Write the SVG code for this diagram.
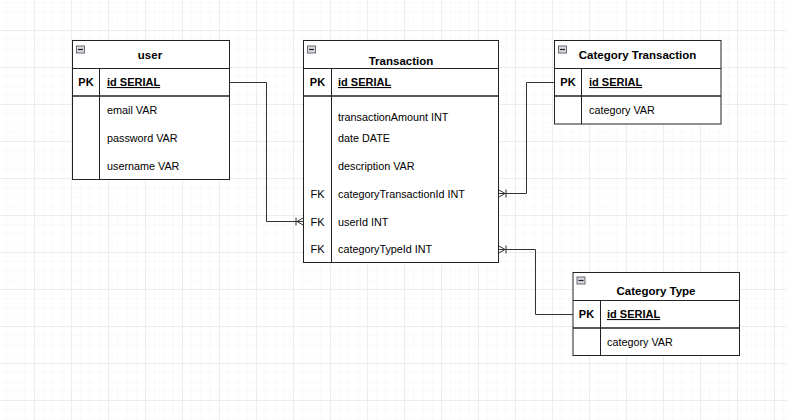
<svg xmlns="http://www.w3.org/2000/svg" width="787" height="420" viewBox="0 0 787 420">
<defs>
<pattern id="minor" patternUnits="userSpaceOnUse" x="-3" y="-7" width="9.25" height="9.25">
<path d="M0 0H9.25M0 0V9.25" fill="none" stroke="#f3f3f3" stroke-width="1"/>
</pattern>
<pattern id="major" patternUnits="userSpaceOnUse" x="-3" y="-7" width="37" height="37">
<path d="M0 0H37M0 0V37" fill="none" stroke="#e2e2e2" stroke-width="1"/>
</pattern>
<g id="minus">
<rect x="0" y="0" width="8" height="7" fill="#d8d8e0" stroke="#6a6a74" stroke-width="1"/>
<path d="M1.5 3.5H6.5" stroke="#222" stroke-width="1.2"/>
</g>
</defs>
<style>
.box{fill:#fff;stroke:#222;stroke-width:1}
.ln{stroke:#222;stroke-width:1;fill:none}
.sep{stroke:#222;stroke-width:1.6;fill:none}
.title{font-family:"Liberation Sans",Arial,sans-serif;font-size:11.5px;font-weight:bold;fill:#000;text-anchor:middle}
.key{font-family:"Liberation Sans",Arial,sans-serif;font-size:11px;font-weight:bold;fill:#000;text-anchor:middle}
.fk{font-family:"Liberation Sans",Arial,sans-serif;font-size:11px;fill:#000;text-anchor:middle}
.pk{font-family:"Liberation Sans",Arial,sans-serif;font-size:11px;font-weight:bold;fill:#000;text-decoration:underline}
.fld{font-family:"Liberation Sans",Arial,sans-serif;font-size:10.8px;fill:#000}
.con{stroke:#333;stroke-width:1;fill:none}
</style>
<rect width="787" height="420" fill="#fff"/>
<rect width="787" height="420" fill="url(#minor)"/>
<rect width="787" height="420" fill="url(#major)"/>

<g id="connectors">
<path class="con" d="M229.5 82.5H266.5V221.5H304"/>
<path class="con" d="M304 217.5L297 221.5L304 225.5M296 217.5V225.5"/>
<path class="con" d="M554 82.5H526.5V193.5H498"/>
<path class="con" d="M498 189.5L505 193.5L498 197.5M506 189.5V197.5"/>
<path class="con" d="M573 314.5H535.5V249.5H498"/>
<path class="con" d="M498 245.5L505 249.5L498 253.5M506 245.5V253.5"/>
</g>

<g id="user">
<rect class="box" x="72.5" y="40.5" width="157" height="139"/>
<path class="ln" d="M72.5 68.5H229.5M99.5 68.5V179.5"/>
<path class="sep" d="M72.5 96H229.5"/>
<use href="#minus" x="76.5" y="46"/>
<text class="title" x="150" y="59">user</text>
<text class="key" x="86" y="86">PK</text>
<text class="pk" x="107" y="86">id SERIAL</text>
<text class="fld" x="107" y="114">email VAR</text>
<text class="fld" x="107" y="142">password VAR</text>
<text class="fld" x="107" y="170">username VAR</text>
</g>

<g id="transaction">
<rect class="box" x="303.5" y="40.5" width="195" height="222"/>
<path class="ln" d="M303.5 68.5H498.5M331.5 68.5V262.5"/>
<path class="sep" d="M303.5 96H498.5"/>
<use href="#minus" x="307.5" y="46"/>
<text class="title" x="401" y="65">Transaction</text>
<text class="key" x="317.5" y="86">PK</text>
<text class="pk" x="338" y="86">id SERIAL</text>
<text class="fld" x="338" y="121">transactionAmount INT</text>
<text class="fld" x="338" y="142">date DATE</text>
<text class="fld" x="338" y="170">description VAR</text>
<text class="fk" x="317.5" y="198">FK</text>
<text class="fld" x="338" y="198">categoryTransactionId INT</text>
<text class="fk" x="317.5" y="225.5">FK</text>
<text class="fld" x="338" y="225.5">userId INT</text>
<text class="fk" x="317.5" y="253">FK</text>
<text class="fld" x="338" y="253">categoryTypeId INT</text>
</g>

<g id="category-transaction">
<rect class="box" x="554.5" y="40.5" width="166.5" height="83.5"/>
<path class="ln" d="M554.5 68.5H721M581.5 68.5V124"/>
<path class="sep" d="M554.5 96H721"/>
<use href="#minus" x="558.5" y="46"/>
<text class="title" x="637.5" y="59">Category Transaction</text>
<text class="key" x="568" y="86">PK</text>
<text class="pk" x="589" y="86">id SERIAL</text>
<text class="fld" x="589" y="114">category VAR</text>
</g>

<g id="category-type">
<rect class="box" x="573" y="272.5" width="166.5" height="83"/>
<path class="ln" d="M573 300.5H739.5M600.5 300.5V355.5"/>
<path class="sep" d="M573 328H739.5"/>
<use href="#minus" x="577" y="277"/>
<text class="title" x="656" y="295">Category Type</text>
<text class="key" x="586.5" y="318">PK</text>
<text class="pk" x="607" y="318">id SERIAL</text>
<text class="fld" x="607" y="346">category VAR</text>
</g>
</svg>
